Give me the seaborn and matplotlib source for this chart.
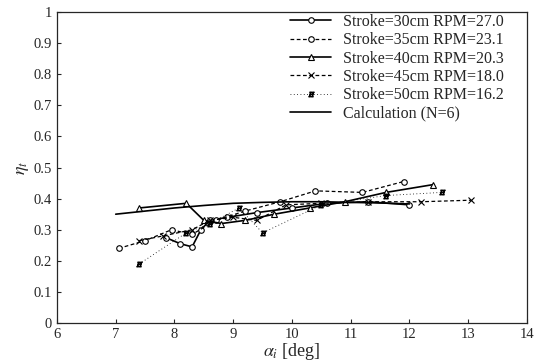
import matplotlib
matplotlib.use("Agg")
import matplotlib.pyplot as plt
import seaborn as sns

# --------------------------------------------------
# Data
# --------------------------------------------------

s30_x = [7.85, 8.1, 8.3, 8.45, 8.6, 8.9, 9.4, 10.0, 10.6, 11.3, 12.0]
s30_y = [0.275, 0.255, 0.245, 0.30, 0.33, 0.34, 0.355, 0.37, 0.385, 0.39, 0.38]

s35_x = [7.05, 7.5, 7.95, 8.3, 8.7, 9.2, 9.8, 10.4, 11.2, 11.9]
s35_y = [0.24, 0.265, 0.30, 0.285, 0.33, 0.36, 0.39, 0.425, 0.42, 0.455]

s40_x = [7.4, 8.2, 8.5, 8.8, 9.2, 9.7, 10.3, 10.9, 11.6, 12.4]
s40_y = [0.37, 0.385, 0.33, 0.32, 0.33, 0.35, 0.37, 0.39, 0.42, 0.445]

s45_x = [7.4, 7.8, 8.3, 8.6, 9.0, 9.4, 9.9, 10.5, 11.3, 12.2, 13.05]
s45_y = [0.265, 0.28, 0.30, 0.33, 0.34, 0.33, 0.38, 0.385, 0.39, 0.39, 0.395]

s50_x = [7.4, 8.2, 8.6, 9.1, 9.5, 10.5, 11.6, 12.55]
s50_y = [0.19, 0.29, 0.32, 0.37, 0.29, 0.38, 0.41, 0.42]

calc_x = [7.0, 7.5, 8.0, 8.5, 9.0, 9.5, 10.0, 10.5, 11.0, 11.5, 12.0]
calc_y = [0.35, 0.36, 0.37, 0.378, 0.385, 0.388, 0.39, 0.39, 0.388, 0.386, 0.383]

labels = [
    "Stroke=30cm RPM=27.0",
    "Stroke=35cm RPM=23.1",
    "Stroke=40cm RPM=20.3",
    "Stroke=45cm RPM=18.0",
    "Stroke=50cm RPM=16.2",
    "Calculation (N=6)",
]

# --------------------------------------------------
# Plot
# --------------------------------------------------

sns.set_style("ticks")
plt.rcParams["font.family"] = ["Liberation Serif", "DejaVu Serif"]
plt.rcParams["mathtext.fontset"] = "stix"

fig = plt.figure(figsize=(5.35, 3.63), dpi=100)
ax = fig.add_axes([0.1065, 0.110, 0.8785, 0.857])

series = [
    (s30_x, s30_y, "-", "o", 1.2),
    (s35_x, s35_y, (0, (3, 2)), "o", 0.9),
    (s40_x, s40_y, "-", "^", 1.2),
    (s45_x, s45_y, (0, (3, 2)), "x", 0.9),
    (s50_x, s50_y, (0, (1, 3)), "$H$", 0.6),
]

for (xs, ys, ls, mk, lw), lab in zip(series, labels[:5]):
    sns.lineplot(
        x=xs,
        y=ys,
        ax=ax,
        color="black",
        linestyle=ls,
        linewidth=lw,
        marker=mk,
        markersize=4,
        markerfacecolor="white" if mk in ("o", "^") else "black",
        markeredgecolor="black",
        markeredgewidth=0.8,
        sort=False,
        estimator=None,
        label=lab,
    )

sns.lineplot(
    x=calc_x,
    y=calc_y,
    ax=ax,
    color="black",
    linewidth=1.2,
    sort=False,
    estimator=None,
    label=labels[5],
)

ax.set_xlim(6, 14)
ax.set_ylim(0, 1)
ax.set_xticks(range(6, 15))
ax.set_yticks([i / 10 for i in range(11)])
ax.set_yticklabels(["0"] + [f"{i / 10:.1f}" for i in range(1, 10)] + ["1"])
ax.tick_params(direction="in", length=3, labelsize=10.5)

ax.set_xlabel(r"$\alpha_{i}$ [deg]", fontsize=13, labelpad=0)
ax.set_ylabel(r"$\eta_{t}$", fontsize=13, labelpad=2)

for sp in ax.spines.values():
    sp.set_linewidth(0.9)

ax.legend(
    loc="upper left",
    bbox_to_anchor=(0.475, 1.025),
    frameon=False,
    fontsize=11.5,
    handlelength=2.6,
    handletextpad=0.7,
    labelspacing=0.15,
    borderaxespad=0.2,
)

plt.savefig("out.png", dpi=100)
plt.close()
